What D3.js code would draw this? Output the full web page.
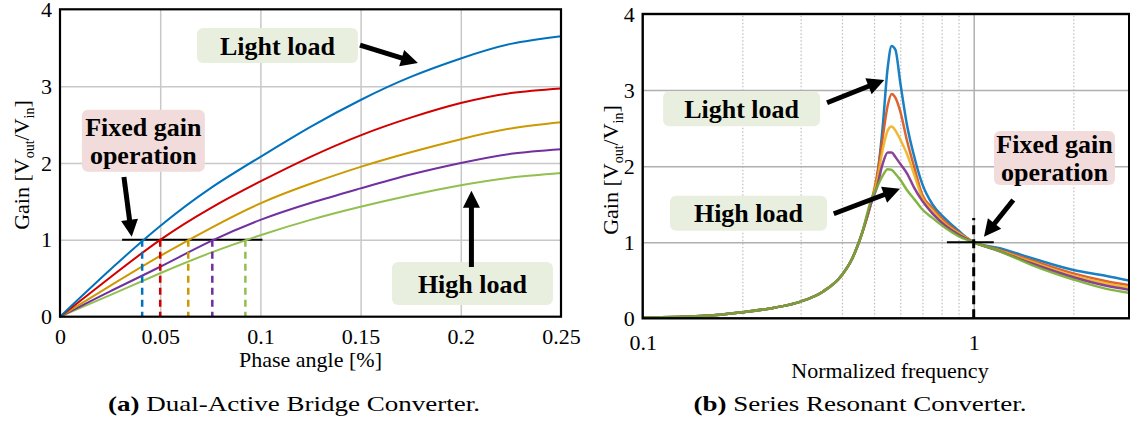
<!DOCTYPE html>
<html>
<head>
<meta charset="utf-8">
<script src="https://cdn.jsdelivr.net/npm/d3@7"></script>
<style>
  body { margin: 0; background: #fff; }
  svg { font-family: "Liberation Serif", "Times New Roman", serif; }
</style>
</head>
<body>
<svg id="fig" width="1130" height="423"></svg>
<script>
// ---- (a) Dual-Active Bridge: gain vs phase angle ----
const phase = [0, 0.025, 0.05, 0.075, 0.1, 0.125, 0.15, 0.175, 0.2, 0.225, 0.25];
const dabLight = [0, 0.61, 1.18, 1.67, 2.08, 2.47, 2.82, 3.12, 3.36, 3.55, 3.65];
const dabMid1 = [0, 0.51, 1.0, 1.41, 1.76, 2.08, 2.36, 2.59, 2.78, 2.91, 2.97];
const dabMid2 = [0, 0.40, 0.79, 1.15, 1.475, 1.73, 1.95, 2.14, 2.31, 2.45, 2.53];
const dabMid3 = [0, 0.33, 0.65, 0.98, 1.26, 1.48, 1.67, 1.85, 2.00, 2.12, 2.18];
const dabHigh = [0, 0.28, 0.565, 0.83, 1.06, 1.26, 1.43, 1.58, 1.71, 1.81, 1.87];
const dabCross = [0.041, 0.050, 0.064, 0.076, 0.0925]; // phase where gain = 1
const dabColors = ["#0072BD", "#D00000", "#CC9900", "#7030A0", "#92C050"];
const dabXTicks = [0, 0.05, 0.1, 0.15, 0.2, 0.25];
const gainTicks = [0, 1, 2, 3, 4];

// ---- (b) Series Resonant: gain vs normalized frequency ----
const freq = [0.1, 0.15, 0.2, 0.25, 0.3, 0.35, 0.4, 0.43, 0.46, 0.49, 0.51, 0.53, 0.55, 0.565,
              0.58, 0.6, 0.63, 0.66, 0.7, 0.75, 0.82, 0.9, 1.0, 1.2, 1.5, 2.0, 2.5, 3.0];
const lowSide = [0.01, 0.03, 0.08, 0.14, 0.22, 0.35, 0.57, 0.79, 1.12];
const srcLight = [...lowSide, 1.52, 1.83, 2.48, 3.3, 3.58, 3.53, 3.1, 2.52, 2.14, 1.76, 1.5, 1.31, 1.15, 1.0, 0.92, 0.79, 0.635, 0.56, 0.49];
const srcMid1 = [...lowSide, 1.52, 1.87, 2.35, 2.8, 2.95, 2.9, 2.72, 2.32, 2.0, 1.62, 1.45, 1.27, 1.13, 1.0, 0.9, 0.76, 0.59, 0.49, 0.43];
const srcMid2 = [...lowSide, 1.52, 1.8, 2.2, 2.47, 2.52, 2.47, 2.35, 2.15, 1.9, 1.58, 1.42, 1.24, 1.12, 1.0, 0.89, 0.74, 0.56, 0.46, 0.40];
const srcMid3 = [...lowSide, 1.52, 1.72, 2.02, 2.18, 2.18, 2.12, 2.03, 1.9, 1.72, 1.54, 1.38, 1.22, 1.1, 1.0, 0.88, 0.72, 0.54, 0.43, 0.37];
const srcHigh = [...lowSide, 1.56, 1.72, 1.87, 1.96, 1.95, 1.9, 1.82, 1.68, 1.57, 1.43, 1.32, 1.19, 1.08, 1.0, 0.88, 0.70, 0.51, 0.39, 0.33];
const srcColors = ["#0072BD", "#D95319", "#EDB120", "#7E2F8E", "#77AC30"];
const srcMinor = [0.2, 0.3, 0.4, 0.5, 0.6, 0.7, 0.8, 0.9, 2, 3];
const srcXTicks = [0.1, 1];

const svg = d3.select("#fig");
const serif = "Liberation Serif, Times New Roman, serif";
const boxGreen = "#E9EFDF";
const boxPink = "#F2DCDB";

function arrow(g, x1, y1, x2, y2) {
  const dx = x2 - x1, dy = y2 - y1, L = Math.hypot(dx, dy);
  const ux = dx / L, uy = dy / L;
  const hl = 17, hw = 8.5;
  const bx = x2 - ux * hl, by = y2 - uy * hl;
  g.append("line")
    .attr("x1", x1).attr("y1", y1).attr("x2", bx + ux * 2).attr("y2", by + uy * 2)
    .attr("stroke", "#000").attr("stroke-width", 5);
  g.append("polygon")
    .attr("points", [[x2, y2], [bx - uy * hw, by + ux * hw], [bx + uy * hw, by - ux * hw]].map((p) => p.join(",")).join(" "))
    .attr("fill", "#000");
}

function label(g, cx, cy, w, h, lines, fill) {
  g.append("rect")
    .attr("x", cx - w / 2).attr("y", cy - h / 2)
    .attr("width", w).attr("height", h)
    .attr("rx", 6).attr("fill", fill);
  const lh = 28;
  lines.forEach((t, i) => {
    g.append("text")
      .attr("x", cx)
      .attr("y", cy + (i - (lines.length - 1) / 2) * lh)
      .attr("dy", "0.35em")
      .attr("text-anchor", "middle")
      .attr("font-family", serif)
      .attr("font-weight", "bold")
      .attr("font-size", 26)
      .text(t);
  });
}

function gainTitle(x, y) {
  const t = svg.append("text")
    .attr("transform", `translate(${x},${y}) rotate(-90)`)
    .attr("text-anchor", "middle")
    .attr("font-family", serif)
    .attr("font-size", 22);
  t.append("tspan").text("Gain [V");
  t.append("tspan").attr("font-size", 14).attr("dy", 5).text("out");
  t.append("tspan").attr("dy", -5).text("/V");
  t.append("tspan").attr("font-size", 14).attr("dy", 5).text("in");
  t.append("tspan").attr("dy", -5).text("]");
}

function styleAxis(g) {
  g.select(".domain").remove();
  g.attr("font-family", serif);
  g.selectAll("text").attr("font-size", 22).attr("font-family", serif).attr("fill", "#000");
}

// ================= chart (a) =================
function drawDab() {
  const x = d3.scaleLinear().domain([0, 0.25]).range([60, 561]);
  const y = d3.scaleLinear().domain([0, 4]).range([316.7, 9.3]);
  const g = svg.append("g");

  // gridlines
  g.append("g")
    .attr("transform", `translate(0,${y(0)})`)
    .call(d3.axisBottom(x).tickValues(dabXTicks.slice(1, -1)).tickFormat("").tickSize(-(y(0) - y(4))))
    .call((a) => a.select(".domain").remove())
    .selectAll("line").attr("stroke", "#c8c8c8").attr("stroke-width", 1.5);
  g.append("g")
    .attr("transform", `translate(${x(0)},0)`)
    .call(d3.axisLeft(y).tickValues([1, 2, 3]).tickFormat("").tickSize(-(x(0.25) - x(0))))
    .call((a) => a.select(".domain").remove())
    .selectAll("line").attr("stroke", "#c8c8c8").attr("stroke-width", 1.5);

  // axes labels
  g.append("g")
    .attr("transform", `translate(0,${y(0)})`)
    .call(d3.axisBottom(x).tickValues(dabXTicks).tickFormat(d3.format("~g")).tickSize(0).tickPadding(12))
    .call(styleAxis);
  g.append("g")
    .attr("transform", `translate(${x(0)},0)`)
    .call(d3.axisLeft(y).tickValues(gainTicks).tickFormat(d3.format("d")).tickSize(0).tickPadding(8))
    .call(styleAxis);

  // fixed-gain line
  g.append("line")
    .attr("x1", x(0.031)).attr("x2", x(0.101))
    .attr("y1", y(1)).attr("y2", y(1))
    .attr("stroke", "#000").attr("stroke-width", 2);

  const series = [dabLight, dabMid1, dabMid2, dabMid3, dabHigh];
  const line = d3.line().x((d, i) => x(phase[i])).y((d) => y(d)).curve(d3.curveNatural);
  series.slice().reverse().forEach((s, k) => {
    const i = series.length - 1 - k;
    g.append("path").attr("d", line(s)).attr("fill", "none")
      .attr("stroke", dabColors[i]).attr("stroke-width", 2);
  });

  dabCross.forEach((c, i) => {
    g.append("line")
      .attr("x1", x(c)).attr("x2", x(c))
      .attr("y1", y(1)).attr("y2", y(0))
      .attr("stroke", dabColors[i]).attr("stroke-width", 2.5)
      .attr("stroke-dasharray", "7,5");
  });

  // frame
  g.append("rect")
    .attr("x", x(0)).attr("y", y(4))
    .attr("width", x(0.25) - x(0)).attr("height", y(0) - y(4))
    .attr("fill", "none").attr("stroke", "#000").attr("stroke-width", 2.2);

  // annotations
  label(g, x(0.1085), y(3.53), 161, 35, ["Light load"], boxGreen);
  arrow(g, x(0.1497), y(3.535), x(0.1786), y(3.30));
  label(g, x(0.0416), y(2.29), 123, 62, ["Fixed gain", "operation"], boxPink);
  arrow(g, x(0.0319), y(1.818), x(0.0358), y(1.041));
  label(g, x(0.2058), y(0.433), 161, 43, ["High load"], boxGreen);
  arrow(g, x(0.2053), y(0.647), x(0.2053), y(1.64));

  svg.append("text")
    .attr("x", (x(0) + x(0.25)) / 2).attr("y", 367)
    .attr("text-anchor", "middle").attr("font-size", 22).attr("font-family", serif)
    .text("Phase angle [%]");
  gainTitle(29, 165);
}

// ================= chart (b) =================
function drawSrc() {
  const x = d3.scaleLog().domain([0.1, 2.95]).range([642.7, 1129.2]);
  const y = d3.scaleLinear().domain([0, 4]).range([318.3, 14]);
  const g = svg.append("g");

  svg.append("clipPath").attr("id", "clipB")
    .append("rect").attr("x", x(0.1)).attr("y", y(4))
    .attr("width", x(2.95) - x(0.1)).attr("height", y(0) - y(4));

  // minor dotted grid
  g.append("g")
    .attr("transform", `translate(0,${y(0)})`)
    .call(d3.axisBottom(x).tickValues(srcMinor).tickFormat("").tickSize(-(y(0) - y(4))))
    .call((a) => a.select(".domain").remove())
    .selectAll("line").attr("stroke", "#bdbdbd").attr("stroke-width", 1.2).attr("stroke-dasharray", "1.5,2");
  // major grid
  g.append("g")
    .attr("transform", `translate(0,${y(0)})`)
    .call(d3.axisBottom(x).tickValues([1]).tickFormat("").tickSize(-(y(0) - y(4))))
    .call((a) => a.select(".domain").remove())
    .selectAll("line").attr("stroke", "#b0b0b0").attr("stroke-width", 1.5);
  g.append("g")
    .attr("transform", `translate(${x(0.1)},0)`)
    .call(d3.axisLeft(y).tickValues([1, 2, 3]).tickFormat("").tickSize(-(x(2.95) - x(0.1))))
    .call((a) => a.select(".domain").remove())
    .selectAll("line").attr("stroke", "#b0b0b0").attr("stroke-width", 1.5);

  g.append("g")
    .attr("transform", `translate(0,${y(0)})`)
    .call(d3.axisBottom(x).tickValues(srcXTicks).tickFormat(d3.format("~g")).tickSize(0).tickPadding(16))
    .call(styleAxis);
  g.append("g")
    .attr("transform", `translate(${x(0.1)},0)`)
    .call(d3.axisLeft(y).tickValues(gainTicks).tickFormat(d3.format("d")).tickSize(0).tickPadding(8))
    .call(styleAxis);

  const series = [srcLight, srcMid1, srcMid2, srcMid3, srcHigh];
  const line = d3.line().x((d, i) => x(freq[i])).y((d) => y(d)).curve(d3.curveMonotoneX);
  const curves = g.append("g").attr("clip-path", "url(#clipB)");
  series.forEach((s, i) => {
    curves.append("path").attr("d", line(s)).attr("fill", "none")
      .attr("stroke", srcColors[i]).attr("stroke-width", 2.5).attr("stroke-opacity", 0.9);
  });

  // fixed-gain marker
  g.append("line")
    .attr("x1", x(0.83)).attr("x2", x(1.15))
    .attr("y1", y(1)).attr("y2", y(1))
    .attr("stroke", "#000").attr("stroke-width", 2);
  g.append("line")
    .attr("x1", x(1)).attr("x2", x(1))
    .attr("y1", y(0)).attr("y2", y(1.32))
    .attr("stroke", "#000").attr("stroke-width", 3)
    .attr("stroke-dasharray", "9,5");

  // frame
  g.append("rect")
    .attr("x", x(0.1)).attr("y", y(4))
    .attr("width", x(2.95) - x(0.1)).attr("height", y(0) - y(4))
    .attr("fill", "none").attr("stroke", "#000").attr("stroke-width", 2.4);

  label(g, x(0.199), y(2.755), 157, 35, ["Light load"], boxGreen);
  arrow(g, x(0.3605), y(2.834), x(0.537), y(3.133));
  label(g, x(0.2087), y(1.38), 157, 35, ["High load"], boxGreen);
  arrow(g, x(0.3778), y(1.374), x(0.5988), y(1.704));
  label(g, x(1.754), y(2.106), 121, 54, ["Fixed gain", "operation"], boxPink);
  arrow(g, x(1.317), y(1.555), x(1.074), y(1.072));

  svg.append("text")
    .attr("x", 890).attr("y", 378)
    .attr("text-anchor", "middle").attr("font-size", 22).attr("font-family", serif)
    .text("Normalized frequency");
  gainTitle(618, 170);
}

function drawCaptions() {
  const caps = [
    { tag: "(a)", text: " Dual-Active Bridge Converter.", x: 294, w: 372 },
    { tag: "(b)", text: " Series Resonant Converter.", x: 860, w: 333 },
  ];
  caps.forEach((c) => {
    const t = svg.append("text")
      .attr("x", c.x).attr("y", 411)
      .attr("text-anchor", "middle").attr("font-size", 21).attr("font-family", serif)
      .attr("textLength", c.w).attr("lengthAdjust", "spacingAndGlyphs");
    t.append("tspan").attr("font-weight", "bold").text(c.tag);
    t.append("tspan").text(c.text);
  });
}

drawDab();
drawSrc();
drawCaptions();
</script>
</body>
</html>
